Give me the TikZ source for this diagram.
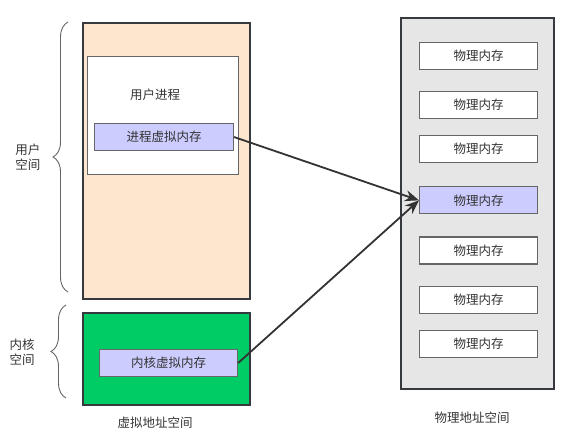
\documentclass[tikz,border=0pt]{standalone}
\usepackage{fontspec}
\setmainfont{Noto Sans CJK SC}
\usepackage{xcolor}
\usetikzlibrary{positioning}
\usetikzlibrary{arrows.meta}
\usetikzlibrary{decorations.pathreplacing}

\definecolor{peach}{HTML}{FDE6CD}
\definecolor{kgreen}{HTML}{00CC66}
\definecolor{lavender}{HTML}{CCCCFF}
\definecolor{panelgray}{HTML}{E6E6E6}
\definecolor{edgedark}{HTML}{36393D}
\definecolor{edgegray}{HTML}{666666}
\definecolor{txt}{HTML}{333333}

\tikzset{
    spacebox/.style={draw=edgedark, line width=1.8pt, anchor=north west, inner sep=0pt},
    membox/.style={draw=edgegray, line width=1.1pt, anchor=north west, inner sep=0pt,
        minimum height=27pt, text=txt, font=\fontsize{12.5}{14}\selectfont},
    lbl/.style={text=txt, font=\fontsize{12.5}{15}\selectfont, align=center},
    bracket/.style={draw=edgegray, line width=0.9pt,
        decorate, decoration={brace, amplitude=15pt, aspect=0.5}},
    maparrow/.style={draw=txt, line width=1.8pt, -{Stealth[length=14pt, width=11pt]}}
}

\begin{document}
\begin{tikzpicture}[x=1pt, y=-1pt]
\useasboundingbox (0,0) rectangle (570,444);

% virtual address space: user part
\node[spacebox, fill=peach,
    minimum width=167pt,
    minimum height=276pt
] (user) at (82,22) {};

% user process
\node[draw=edgegray, line width=1.1pt, fill=white, anchor=north west,
    minimum width=151pt,
    minimum height=118pt
] (proc) at (87,56) {};
\node[lbl] (proctext) at (155,95) {用户进程};
\node[membox, fill=lavender, minimum width=139pt] (procmem) at (94,123) {进程虚拟内存};

% virtual address space: kernel part
\node[spacebox, fill=kgreen,
    minimum width=167pt,
    minimum height=92pt
] (kernel) at (82,312) {};
\node[membox, fill=lavender, minimum width=138pt] (kernmem) at (99,349) {内核虚拟内存};

\node[lbl] (vlabel) at (155,423) {虚拟地址空间};

% braces with labels
\draw[bracket] (68,292) -- (68,22);
\node[lbl] (userlbl) at (28,157) {用户\\空间};
\draw[bracket] (66,398) -- (66,305);
\node[lbl] (kernlbl) at (22,352) {内核\\空间};

% physical address space
\node[spacebox, fill=panelgray,
    minimum width=153pt,
    minimum height=371pt
] (phys) at (400,17) {};

\node[membox, fill=white, minimum width=118pt] (mem1) at (419,42) {物理内存};
\node[membox, fill=white, minimum width=118pt, below=21pt of mem1] (mem2) {物理内存};
\node[membox, fill=white, minimum width=118pt, below=16pt of mem2] (mem3) {物理内存};
\node[membox, fill=lavender, minimum width=118pt, below=23pt of mem3] (mem4) {物理内存};
\node[membox, fill=white, minimum width=118pt, below=22pt of mem4] (mem5) {物理内存};
\node[membox, fill=white, minimum width=118pt, below=21pt of mem5] (mem6) {物理内存};
\node[membox, fill=white, minimum width=118pt, below=16pt of mem6] (mem7) {物理内存};

\node[lbl] (plabel) at (472,418) {物理地址空间};

% mappings
\draw[maparrow] (procmem.east) -- (mem4.west);
\draw[maparrow] (kernmem.east) -- (mem4.west);

\end{tikzpicture}
\end{document}
